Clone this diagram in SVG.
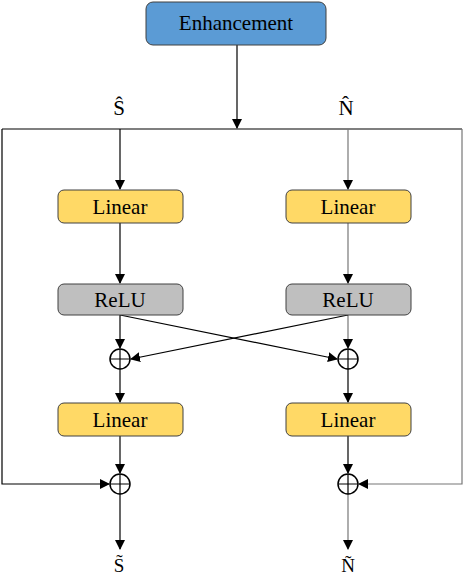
<svg xmlns="http://www.w3.org/2000/svg" width="464" height="578" viewBox="0 0 464 578">
<style>
.box{stroke:#404040;stroke-width:1}
.lin{fill:#ffd966}
.relu{fill:#bfbfbf}
.t{font-family:'Liberation Serif','Times New Roman',serif;font-size:21px;fill:#000;text-anchor:middle}
.c{fill:none;stroke:#000;stroke-width:1.2}
.g{fill:none;stroke:#777;stroke-width:1.2}
.plus{fill:#fff;stroke:#000;stroke-width:1.5}
</style>
<defs>
<marker id="ah" markerWidth="10" markerHeight="10" refX="9" refY="5" orient="auto" markerUnits="userSpaceOnUse">
<path d="M0,0 L10,5 L0,10 z" fill="#000"/>
</marker>
</defs>
<rect width="464" height="578" fill="#fff"/>
<g id="connectors">
<path class="c" d="M237,45 V128" marker-end="url(#ah)"/>
<path class="c" d="M2,129 H462"/>
<path class="c" d="M2,129 V484 H109" marker-end="url(#ah)"/>
<path class="g" d="M462,129 V484 H359" marker-end="url(#ah)"/>
<path class="c" d="M120,129 V189" marker-end="url(#ah)"/>
<path class="g" d="M348,129 V189" marker-end="url(#ah)"/>
<path class="c" d="M120,223 V283" marker-end="url(#ah)"/>
<path class="g" d="M348,223 V283" marker-end="url(#ah)"/>
<path class="c" d="M120,315 V348" marker-end="url(#ah)"/>
<path class="g" d="M348,315 V348" marker-end="url(#ah)"/>
<path class="c" d="M120,315 L337,359" marker-end="url(#ah)"/>
<path class="c" d="M348,315 L131,359" marker-end="url(#ah)"/>
<path class="c" d="M120,369 V402" marker-end="url(#ah)"/>
<path class="c" d="M348,369 V402" marker-end="url(#ah)"/>
<path class="c" d="M120,436 V473" marker-end="url(#ah)"/>
<path class="c" d="M348,436 V473" marker-end="url(#ah)"/>
<path class="c" d="M120,494 V549" marker-end="url(#ah)"/>
<path class="g" d="M348,494 V549" marker-end="url(#ah)"/>
</g>
<g id="enhancement">
<rect class="box" x="146" y="2" width="180" height="43" rx="7" fill="#5b9bd5"/>
<text class="t" x="236" y="30">Enhancement</text>
</g>
<g id="s-hat"><text class="t" x="119" y="115">Ŝ</text></g>
<g id="n-hat"><text class="t" x="346" y="115">N̂</text></g>
<g id="linear1-left"><rect class="box lin" x="58" y="190" width="125" height="33" rx="6"/><text class="t" x="120" y="214">Linear</text></g>
<g id="linear1-right"><rect class="box lin" x="286" y="190" width="125" height="33" rx="6"/><text class="t" x="348" y="214">Linear</text></g>
<g id="relu-left"><rect class="box relu" x="58" y="284" width="125" height="31" rx="6"/><text class="t" x="120" y="307">ReLU</text></g>
<g id="relu-right"><rect class="box relu" x="286" y="284" width="125" height="31" rx="6"/><text class="t" x="348" y="307">ReLU</text></g>
<g id="plus1-left"><circle class="plus" cx="120" cy="359" r="10"/><path class="c" d="M110,359 H130 M120,349 V369"/></g>
<g id="plus1-right"><circle class="plus" cx="348" cy="359" r="10"/><path class="c" d="M338,359 H358 M348,349 V369"/></g>
<g id="linear2-left"><rect class="box lin" x="58" y="403" width="125" height="33" rx="6"/><text class="t" x="120" y="427">Linear</text></g>
<g id="linear2-right"><rect class="box lin" x="286" y="403" width="125" height="33" rx="6"/><text class="t" x="348" y="427">Linear</text></g>
<g id="plus2-left"><circle class="plus" cx="120" cy="484" r="10"/><path class="c" d="M110,484 H130 M120,474 V494"/></g>
<g id="plus2-right"><circle class="plus" cx="348" cy="484" r="10"/><path class="c" d="M338,484 H358 M348,474 V494"/></g>
<g id="s-tilde"><text class="t" x="119" y="572" style="font-size:19px">S̃</text></g>
<g id="n-tilde"><text class="t" x="348" y="572" style="font-size:19px">Ñ</text></g>
</svg>
